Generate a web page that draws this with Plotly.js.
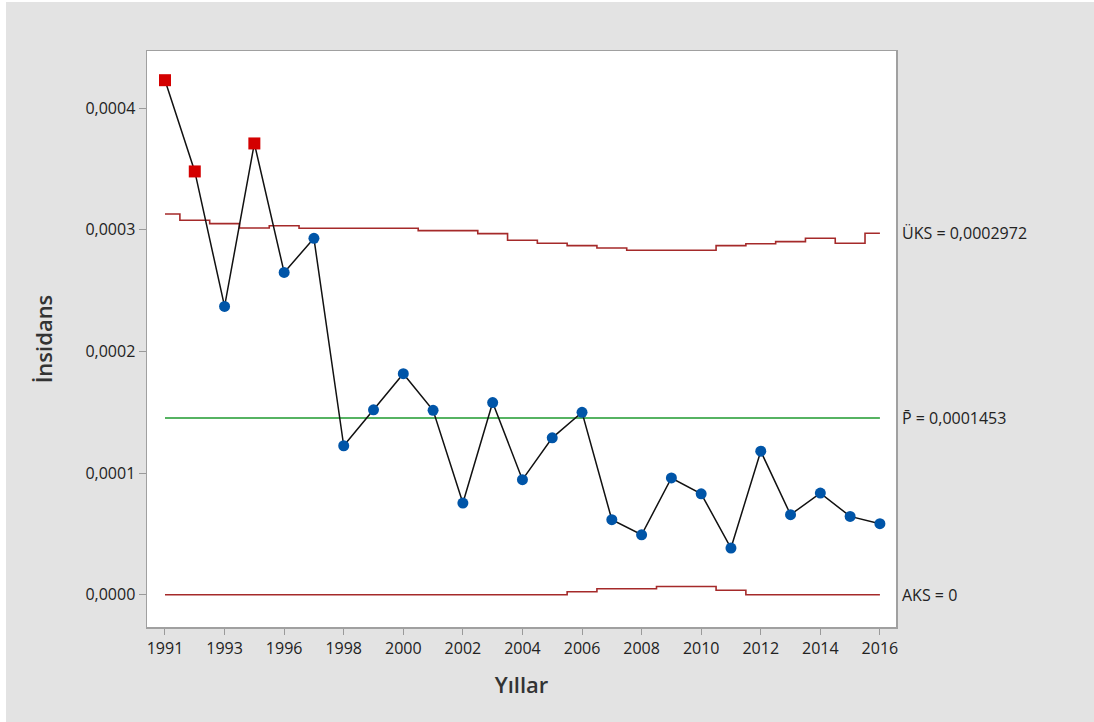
<!DOCTYPE html>
<html>
<head>
<meta charset="utf-8">
<script src="https://cdn.plot.ly/plotly-3.0.1.min.js"></script>
<style>
  html, body { margin: 0; padding: 0; background: #ffffff; }
  #chart { position: absolute; left: 6px; top: 2px; width: 1088px; height: 720px; }
</style>
</head>
<body>
<div id="chart"></div>
<script>
// Years (one point per year in the data; 1994 is absent)
const years = ['1991','1992','1993','1995','1996','1997','1998','1999','2000','2001','2002','2003','2004',
               '2005','2006','2007','2008','2009','2010','2011','2012','2013','2014','2015','2016'];
// Incidence proportions
const incidence = [0.000423, 0.000348, 0.000237, 0.000371, 0.000265, 0.000293, 0.0001225, 0.000152, 0.0001817,
                   0.0001516, 0.0000754, 0.000158, 0.0000946, 0.000129, 0.000150, 0.0000617, 0.0000493,
                   0.000096, 0.000083, 0.0000384, 0.000118, 0.0000658, 0.0000836, 0.0000644, 0.0000584];
// Upper control limit (ÜKS)
const ucl = [0.000313, 0.0003079, 0.0003051, 0.0003015, 0.0003034, 0.0003013, 0.0003013, 0.0003013, 0.0003013,
             0.0002993, 0.0002993, 0.0002969, 0.0002914, 0.000289, 0.000287, 0.0002851, 0.0002832, 0.0002832,
             0.0002832, 0.000287, 0.0002886, 0.0002903, 0.0002931, 0.000289, 0.0002972];
// Lower control limit (AKS)
const lcl = [0, 0, 0, 0, 0, 0, 0, 0, 0, 0, 0, 0, 0, 0, 0.0000025, 0.000005, 0.000005, 0.0000068, 0.0000068,
             0.0000037, 0, 0, 0, 0, 0];
// Center line
const pbar = 0.0001453;
const centre = years.map(() => pbar);
// Out-of-control flags (red squares)
const outOfControl = [true, true, false, true, false, false, false, false, false, false, false, false, false,
                      false, false, false, false, false, false, false, false, false, false, false, false];

const limitColor = '#a52a2a';
const traces = [
  { x: years, y: ucl, type: 'scatter', mode: 'lines', line: { color: limitColor, width: 1.6, shape: 'hvh' }, hoverinfo: 'skip' },
  { x: years, y: lcl, type: 'scatter', mode: 'lines', line: { color: limitColor, width: 1.6, shape: 'hvh' }, hoverinfo: 'skip' },
  { x: years, y: centre, type: 'scatter', mode: 'lines', line: { color: '#1e9a2e', width: 1.6 }, hoverinfo: 'skip' },
  { x: years, y: incidence, type: 'scatter', mode: 'lines+markers',
    line: { color: '#111111', width: 1.5 },
    marker: {
      symbol: outOfControl.map(o => o ? 'square' : 'circle'),
      color: outOfControl.map(o => o ? '#d40000' : '#0055a8'),
      size: outOfControl.map(o => o ? 12 : 11),
      opacity: 1,
      line: { width: 0 }
    } }
];

const FAM = 'Open Sans, Noto Sans, sans-serif';
const labelFont = { family: FAM, size: 16, color: '#222222' };
const layout = {
  width: 1088, height: 720,
  paper_bgcolor: '#e3e3e3',
  plot_bgcolor: '#ffffff',
  showlegend: false,
  separators: ',.',
  margin: { l: 141, r: 198, t: 49, b: 95 },
  font: labelFont,
  xaxis: {
    type: 'category',
    range: [-0.604, 24.54],
    tick0: 0, dtick: 2,
    ticks: 'outside', ticklen: 6, tickcolor: '#9a9a9a', tickwidth: 1,
    showgrid: false, zeroline: false,
    showline: true, linecolor: '#a0a0a0', linewidth: 1.5, mirror: true,
    tickfont: { family: FAM, size: 16, color: '#222222' },
    title: { text: 'Yıllar', font: { family: FAM, size: 22, color: '#333333', weight: 600 }, standoff: 20 }
  },
  yaxis: {
    range: [-0.0000265, 0.000447],
    tickvals: [0, 0.0001, 0.0002, 0.0003, 0.0004],
    tickformat: '.4f',
    ticks: 'outside', ticklen: 7, tickcolor: '#9a9a9a', tickwidth: 1,
    showgrid: false, zeroline: false,
    showline: true, linecolor: '#a0a0a0', linewidth: 1.5, mirror: true,
    tickfont: { family: FAM, size: 16, color: '#222222' },
    title: { text: 'İnsidans', font: { family: FAM, size: 22, color: '#333333', weight: 600 }, standoff: 26 }
  },
  annotations: [
    { xref: 'paper', yref: 'y', x: 1, xshift: 4, xanchor: 'left', align: 'left', yanchor: 'middle', y: ucl[ucl.length - 1],
      text: 'ÜKS = 0,0002972', showarrow: false, font: labelFont },
    { xref: 'paper', yref: 'y', x: 1, xshift: 4, xanchor: 'left', align: 'left', yanchor: 'middle', y: pbar,
      text: 'P\u0304 = 0,0001453', showarrow: false, font: labelFont },
    { xref: 'paper', yref: 'y', x: 1, xshift: 4, xanchor: 'left', align: 'left', yanchor: 'middle', y: lcl[lcl.length - 1],
      text: 'AKS = 0', showarrow: false, font: labelFont }
  ]
};

Plotly.newPlot('chart', traces, layout, { displayModeBar: false, staticPlot: true });
</script>
</body>
</html>
